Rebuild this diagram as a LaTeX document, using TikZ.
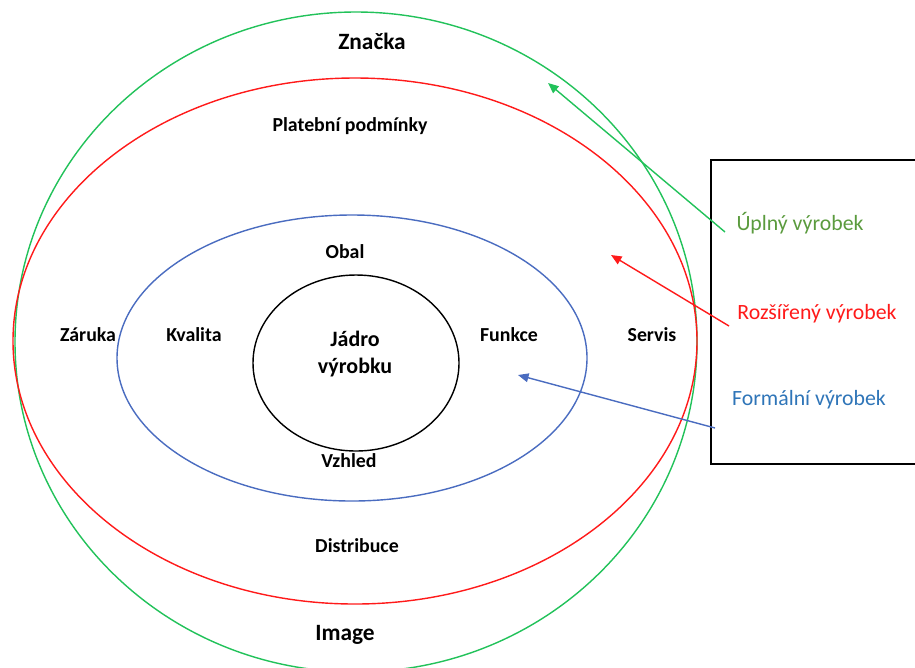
\documentclass[tikz,border=0pt]{standalone}
\usepackage{fontspec}
\setmainfont{Carlito}
\usetikzlibrary{arrows.meta}
\definecolor{cgreen}{HTML}{22C25A}
\definecolor{cgreentxt}{HTML}{5B9B3E}
\definecolor{cred}{HTML}{FF1A1A}
\definecolor{cblue}{HTML}{4A6CC0}
\definecolor{cbluetxt}{HTML}{2F75B8}
\tikzset{
  ring/.style={line width=0.8pt},
  lbl/.style={font=\bfseries\fontsize{11.3}{13}\selectfont, inner sep=0pt},
  biglbl/.style={font=\bfseries\fontsize{13.3}{15}\selectfont, inner sep=0pt},
  keylbl/.style={font=\fontsize{12.4}{14}\selectfont, inner sep=0pt},
  pointer/.style={line width=0.8pt, -{Triangle[length=6pt,width=5pt]}}
}
\begin{document}
\begin{tikzpicture}[x=0.02cm,y=-0.02cm]
\useasboundingbox (0,0) rectangle (915,667);
% rings
\draw[ring, cgreen] (356,342) ellipse [x radius=341, y radius=330];
\draw[ring, cred] (355,341) ellipse [x radius=342, y radius=263];
\draw[ring, cblue] (352,358) ellipse [x radius=235, y radius=143];
\draw[ring, black] (356,363) ellipse [x radius=103, y radius=88];
% legend box
\draw[line width=0.8pt] (711,160) rectangle (925,464);
% labels
\node[biglbl] (znacka) at (372,41) {Značka};
\node[lbl] (plat) at (350,126) {Platební podmínky};
\node[lbl] (obal) at (345,252) {Obal};
\node[lbl] (zaruka) at (88,335) {Záruka};
\node[lbl] (kvalita) at (194,335) {Kvalita};
\node[lbl, font=\bfseries\fontsize{12.5}{14}\selectfont, align=center] (jadro) at (355,354) {Jádro\\[1pt]výrobku};
\node[lbl] (funkce) at (509,335) {Funkce};
\node[lbl] (servis) at (652,335) {Servis};
\node[lbl] (vzhled) at (349,461) {Vzhled};
\node[lbl] (distr) at (357,546) {Distribuce};
\node[biglbl] (image) at (345,635) {Image};
\node[keylbl, text=cgreentxt] (uplny) at (800,223) {Úplný výrobek};
\node[keylbl, text=cred] (rozs) at (817,314) {Rozšířený výrobek};
\node[keylbl, text=cbluetxt] (form) at (809,400) {Formální výrobek};
% arrow ends
\coordinate (gs) at (725,232);
\coordinate (ge) at (548,83);
\coordinate (rs) at (729,326);
\coordinate (re) at (611,255);
\coordinate (bs) at (715,428);
\coordinate (be) at (518,375);
\draw[pointer, cgreen] (gs) -- (ge);
\draw[pointer, cred] (rs) -- (re);
\draw[pointer, cblue] (bs) -- (be);
\end{tikzpicture}
\end{document}
